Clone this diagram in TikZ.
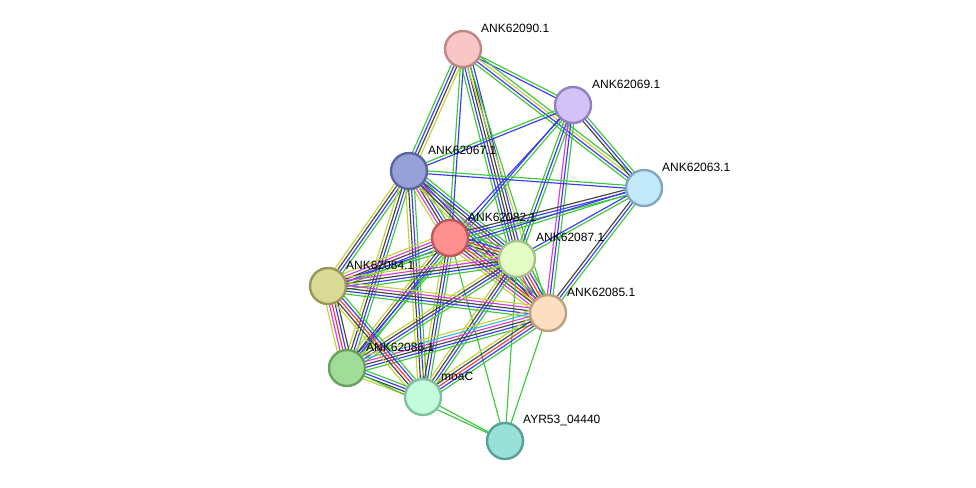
\documentclass[tikz,border=0pt]{standalone}
\usepackage{fontspec}
\setmainfont{Liberation Sans}
\usetikzlibrary{calc,backgrounds}
\definecolor{cG}{HTML}{3CC83C}
\definecolor{cB}{HTML}{3A3AF5}
\definecolor{cK}{HTML}{444444}
\definecolor{cY}{HTML}{C4D23A}
\definecolor{cM}{HTML}{DD3ADD}
\definecolor{cR}{HTML}{F53A3A}
\definecolor{cC}{HTML}{3AB8DA}
\tikzset{
  G/.style={cG}, B/.style={cB}, K/.style={cK}, Y/.style={cY},
  M/.style={cM}, R/.style={cR}, C/.style={cC},
  prot/.style={circle, minimum size=36pt, inner sep=0pt, line width=2.4pt},
  plabel/.style={anchor=west, inner sep=0pt, font=\fontsize{12}{14}\selectfont, text=black},
}
\newcommand\ebund[3]{%
  \gdef\ebN{0}%
  \foreach \cc in {#3}{\xdef\ebN{\number\numexpr\ebN+1\relax}}%
  \foreach \cc [count=\ii] in {#3}{%
    \pgfmathsetmacro\oo{(\ii-(\ebN+1)/2)*2.9}%
    \draw[\cc, line width=1.15pt] ($(#1)!\oo pt!90:(#2)$) -- ($(#2)!\oo pt!-90:(#1)$);}%
}
\begin{document}
\begin{tikzpicture}[x=1pt,y=-1pt]
\useasboundingbox (0,0) rectangle (976,487);
% nodes
\node[prot, fill={rgb,255:red,248;green,198;blue,198}, draw={rgb,255:red,192;green,134;blue,134}] (n90) at (463,49) {};
\node[prot, fill={rgb,255:red,210;green,194;blue,248}, draw={rgb,255:red,146;green,128;blue,192}] (n69) at (573,105) {};
\node[prot, fill={rgb,255:red,152;green,160;blue,216}, draw={rgb,255:red,88;green,102;blue,160}] (n67) at (409,171) {};
\node[prot, fill={rgb,255:red,194;green,232;blue,252}, draw={rgb,255:red,128;green,166;blue,192}] (n63) at (644,188) {};
\node[prot, fill={rgb,255:red,255;green,144;blue,144}, draw={rgb,255:red,192;green,88;blue,88}] (n82) at (450,238) {};
\node[prot, fill={rgb,255:red,226;green,252;blue,196}, draw={rgb,255:red,168;green,192;blue,144}] (n87) at (517,259) {};
\node[prot, fill={rgb,255:red,218;green,218;blue,150}, draw={rgb,255:red,152;green,152;blue,90}] (n84) at (328,286) {};
\node[prot, fill={rgb,255:red,252;green,222;blue,192}, draw={rgb,255:red,190;green,160;blue,128}] (n85) at (548,313) {};
\node[prot, fill={rgb,255:red,160;green,222;blue,152}, draw={rgb,255:red,104;green,160;blue,96}] (n86) at (347,368) {};
\node[prot, fill={rgb,255:red,194;green,252;blue,220}, draw={rgb,255:red,128;green,192;blue,160}] (nC) at (423,397) {};
\node[prot, fill={rgb,255:red,152;green,224;blue,216}, draw={rgb,255:red,88;green,160;blue,152}] (nA) at (505,441) {};
% labels
\node[plabel] (l90) at (481,28) {ANK62090.1};
\node[plabel] (l69) at (592,84) {ANK62069.1};
\node[plabel] (l67) at (428,150) {ANK62067.1};
\node[plabel] (l63) at (662,167) {ANK62063.1};
\node[plabel] (l82) at (468,217) {ANK62082.1};
\node[plabel] (l87) at (536,237) {ANK62087.1};
\node[plabel] (l84) at (346,265) {ANK62084.1};
\node[plabel] (l85) at (567,292) {ANK62085.1};
\node[plabel] (l86) at (366,347) {ANK62086.1};
\node[plabel] (lC) at (441,376) {moaC};
\node[plabel] (lA) at (523,420) {AYR53\_04440};
% edges
\begin{scope}[on background layer]
\ebund{n90}{n69}{B,G}
\ebund{n90}{n63}{G,B,Y,G}
\ebund{n69}{n63}{K,B,G}
\ebund{n90}{n67}{G,B,K,Y}
\ebund{n90}{n82}{G,B}
\ebund{n90}{n87}{G,B,K,K,B}
\ebund{n90}{n85}{Y,G}
\ebund{n69}{n67}{G,B}
\ebund{n69}{n82}{B}
\ebund{n69}{n87}{G,B,G}
\ebund{n69}{n85}{M,B,G}
\ebund{n69}{n86}{B,G}
\ebund{n67}{n63}{B,G}
\ebund{n67}{n82}{Y,M,K,B,G}
\ebund{n67}{n87}{Y,M,K,B,G}
\ebund{n67}{n85}{Y,K,B,G}
\ebund{n67}{n84}{Y,K,B,G}
\ebund{n67}{n86}{Y,K,B,G}
\ebund{n67}{nC}{Y,K,B,G}
\ebund{n63}{n82}{K,B,G}
\ebund{n63}{n87}{B,G}
\ebund{n63}{n85}{K,B,G}
\ebund{n63}{n84}{B,G}
\ebund{n82}{n87}{Y,M,K,R,B,G}
\ebund{n82}{n85}{Y,M,K,R,B,G}
\ebund{n82}{n84}{Y,M,K,B,G}
\ebund{n82}{n86}{Y,K,B,G}
\ebund{n82}{nC}{Y,K,B,G}
\ebund{n82}{nA}{G}
\ebund{n87}{n85}{Y,M,K,R,B,G}
\ebund{n87}{n84}{Y,M,K,B,G}
\ebund{n87}{n86}{Y,K,B,G}
\ebund{n87}{nC}{Y,K,B,G}
\ebund{n87}{nA}{G}
\ebund{n85}{n84}{Y,M,K,B,G}
\ebund{n85}{n86}{Y,C,M,K,B,G}
\ebund{n85}{nC}{Y,K,R,B,G}
\ebund{n85}{nA}{G}
\ebund{n84}{n86}{Y,M,R,B,K}
\ebund{n84}{nC}{Y,K,R,B,G}
\ebund{n86}{nC}{Y,K,B,G}
\ebund{n86}{nA}{G}
\ebund{nC}{nA}{G}
\end{scope}
\end{tikzpicture}
\end{document}
